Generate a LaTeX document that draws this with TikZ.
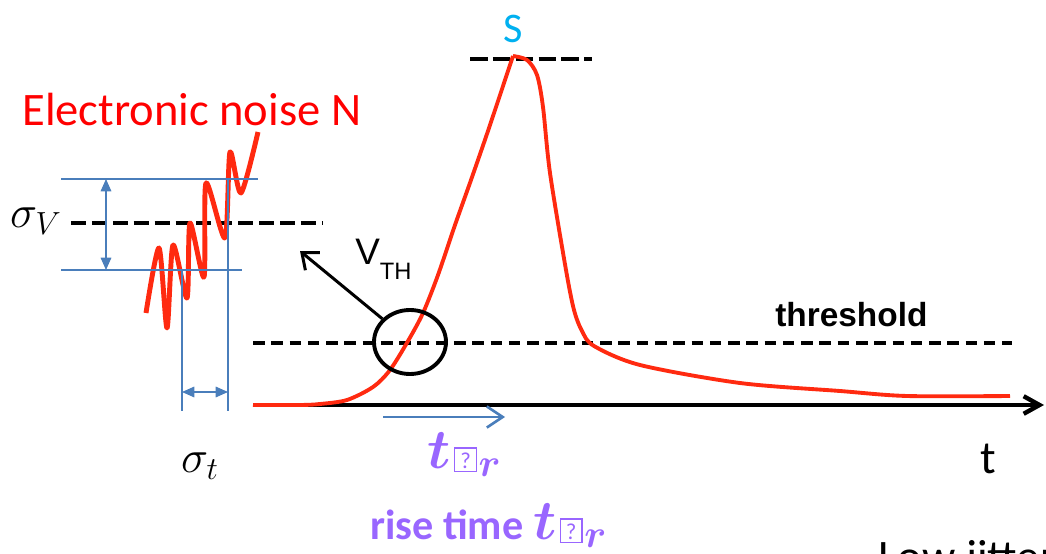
\RequirePackage{fix-cm}
\documentclass[tikz,border=0pt]{standalone}
\usepackage{amsmath,bm}
\usepackage{fontspec}
\setmainfont{Carlito}
\newfontfamily\arialfont{Liberation Sans}
\usetikzlibrary{arrows.meta,positioning,shapes.geometric}
\definecolor{noisered}{HTML}{FF0000}
\definecolor{pulsered}{HTML}{FF2A10}
\definecolor{guideblue}{HTML}{4A7EBB}
\definecolor{peakblue}{HTML}{00B0F0}
\definecolor{risepurple}{HTML}{9966FF}
\newcommand{\tofubox}{\hspace{2pt}{\fboxsep=1.5pt\fboxrule=0.7pt\fbox{\rule{0pt}{9.5pt}\makebox[8.5pt]{\mdseries\fontsize{13}{13}\selectfont ?}}}\hspace{1pt}}
\newcommand{\trise}{{\fontsize{32}{34}\selectfont$\bm{t}$}\tofubox{\fontsize{32}{34}\selectfont$_{\bm{r}}$}}

\begin{document}
\begin{tikzpicture}[
  x=0.02cm, y=-0.02cm,
  lbl/.style={inner sep=0pt, anchor=base west},
  big/.style={font=\fontsize{26.5}{30}\selectfont},
  guide/.style={draw=guideblue, line width=0.9pt},
  dim/.style={guide, {Triangle[length=7pt,width=6pt]}-{Triangle[length=7pt,width=6pt]}},
  dashline/.style={line width=2.3pt, dash pattern=on 6.6pt off 3.8pt},
  sig/.style={draw=pulsered, line width=2.2pt, line join=round},
  barb/.style={-{Straight Barb[length=9pt,width=10pt]}}
]
  \useasboundingbox (0,0) rectangle (1046,554);

  % time axis and threshold
  \coordinate (ax0) at (253,405);
  \coordinate (ax1) at (1044,405);
  \coordinate (th0) at (253,343);
  \coordinate (th1) at (1012,343);
  \draw[dashline] (th0) -- (th1);
  \node[lbl, font=\arialfont\bfseries\fontsize{19}{22}\selectfont] (thr) at (775,327) {threshold};

  % peak level
  \coordinate (s0) at (470,59);
  \coordinate (s1) at (592,59);
  \draw[line width=2.3pt, dash pattern=on 10pt off 3pt] (s0) -- (s1);
  \node[lbl, text=peakblue, font=\fontsize{24}{28}\selectfont] (peak) at (503,43) {S};

  % pulse
  \draw[line width=2.5pt, barb] (ax0) -- (ax1);
  \draw[sig] plot[smooth, tension=0.5] coordinates {(253,405) (300,405) (320,404) (347,400)
    (373,387) (390,370) (408,341) (423,313) (438,275) (455,225) (471,180) (489,128) (513,56)};
  \draw[sig] plot[smooth, tension=0.5] coordinates {(513,56) (527,60) (537,75) (543,107)
    (550,173) (566,270) (574,310) (582,331) (594,346) (640,365) (740,383) (840,391)
    (907,396) (1010,396)};

  % crossing at V_TH
  \node[draw, ellipse, line width=2.2pt, minimum width=72*0.02cm, minimum height=64*0.02cm,
    inner sep=0pt] (ring) at (410,342) {};
  \coordinate (vtip) at (300,251);
  \draw[line width=1.7pt, -{Straight Barb[length=8pt,width=13pt]}] (ring.140) -- (vtip);
  \node[lbl, font=\arialfont\fontsize{21}{24}\selectfont] (vth) at (355,265)
    {V\raisebox{-8.5pt}{\fontsize{13.5}{14}\selectfont TH}};

  % rise time
  \coordinate (tr0) at (383,417);
  \coordinate (tr1) at (505,417);
  \draw[guideblue, line width=1.5pt, -{Straight Barb[length=9pt,width=12pt]}] (tr0) -- (tr1);
  \node[lbl, text=risepurple, font=\bfseries\fontsize{24}{28}\selectfont] (trup) at (427,468) {\trise};
  \node[lbl, text=risepurple, font=\bfseries\fontsize{24}{28}\selectfont] (trlow) at (370,539) {rise time \trise};
  \node[lbl, big] (tlbl) at (980,473) {t};
  \node[lbl, big] (jit) at (878,572) {Low jitter};

  % noise and jitter
  \node[lbl, big, text=noisered] (noise) at (22,126) {Electronic noise N};
  \coordinate (v0) at (71,223);
  \coordinate (v1) at (323,223);
  \draw[line width=2.4pt, dash pattern=on 8.5pt off 3.4pt] (v0) -- (v1);
  \draw[sig, line width=2.8pt] plot[smooth, tension=0.45] coordinates {(146,313) (159,248)
    (167,328) (173,245) (187,298) (190,223) (204,277) (206,183) (225,238) (230,152)
    (241,193) (258,132)};
  \coordinate (hi0) at (61,179);
  \coordinate (hi1) at (258,179);
  \coordinate (lo0) at (61,270);
  \coordinate (lo1) at (242,270);
  \coordinate (jl0) at (182,270);
  \coordinate (jl1) at (182,411);
  \coordinate (jr0) at (228,179);
  \coordinate (jr1) at (228,411);
  \draw[guide] (hi0) -- (hi1);
  \draw[guide] (lo0) -- (lo1);
  \draw[guide] (jl0) -- (jl1);
  \draw[guide] (jr0) -- (jr1);
  \coordinate (vt) at (106,179);
  \coordinate (vb) at (106,270);
  \draw[dim] (vt) -- (vb);
  \coordinate (ja) at (182,392);
  \coordinate (jb) at (228,392);
  \draw[dim] (ja) -- (jb);
  \node[font=\fontsize{26}{30}\selectfont] (sigv) at (36,221) {$\sigma_V$};
  \node[font=\fontsize{26}{30}\selectfont] (sigt) at (200,466) {$\sigma_t$};
\end{tikzpicture}
\end{document}
